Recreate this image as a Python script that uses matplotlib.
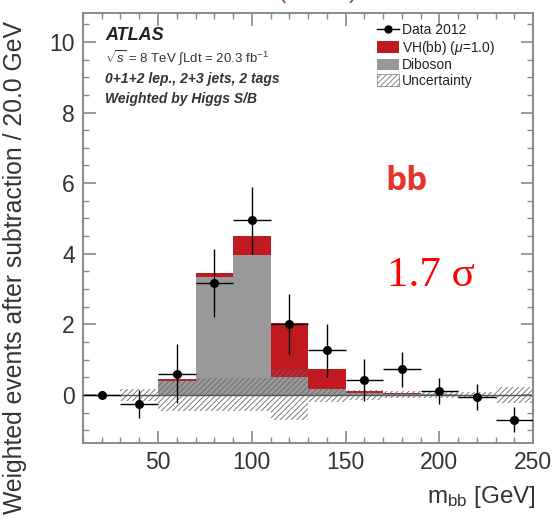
import matplotlib
matplotlib.use("Agg")
import matplotlib.pyplot as plt
from matplotlib.lines import Line2D
from matplotlib.patches import Patch
from matplotlib.ticker import MultipleLocator

plt.rcParams['font.family'] = ['Liberation Sans', 'DejaVu Sans']
plt.rcParams['mathtext.fontset'] = 'custom'
plt.rcParams['mathtext.rm'] = 'Liberation Sans'
plt.rcParams['mathtext.it'] = 'Liberation Sans:italic'
plt.rcParams['hatch.linewidth'] = 0.6

# m_bb bins (20 GeV wide), centres
bin_centers = [20, 40, 60, 80, 100, 120, 140, 160, 180, 200, 220, 240]
bin_width = 20

# data after subtraction
data_y = [0.0, -0.25, 0.6, 3.17, 4.95, 2.0, 1.27, 0.43, 0.72, 0.1, -0.07, -0.7]
data_err = [0.05, 0.4, 0.83, 0.96, 0.95, 0.85, 0.75, 0.6, 0.5, 0.37, 0.37, 0.35]

# stacked expectations
diboson = [0.0, 0.0, 0.4, 3.35, 3.97, 0.5, 0.17, 0.05, 0.02, 0.02, 0.0, 0.0]
vh_bb = [0.0, 0.0, 0.06, 0.1, 0.53, 1.54, 0.57, 0.06, 0.02, 0.0, 0.0, 0.0]

# uncertainty band half-width around zero
uncert = [0.0, 0.17, 0.45, 0.47, 0.47, 0.7, 0.2, 0.15, 0.1, 0.1, 0.08, 0.22]

RED = "#c01a20"
GRAY = "#999999"
FRAME = "#8a8a8a"

fig = plt.figure(figsize=(5.57, 5.21), dpi=100)
ax = fig.add_axes([0.149, 0.150, 0.808, 0.825])

ax.bar(bin_centers, diboson, width=bin_width, color=GRAY, linewidth=0, zorder=1)
ax.bar(bin_centers, vh_bb, width=bin_width, bottom=diboson, color=RED, linewidth=0, zorder=1)

lows = [-u for u in uncert]
highs = [2 * u for u in uncert]
ax.bar(bin_centers, highs, width=bin_width, bottom=lows, fill=False, hatch='//////',
       edgecolor='#666666', linewidth=0, zorder=2)

ax.axhline(0, color='#555555', lw=1.0, zorder=2)

ax.errorbar(bin_centers, data_y, yerr=data_err, xerr=bin_width / 2, fmt='o', color='black',
            ms=5.5, elinewidth=1.0, capsize=0, zorder=3)

ax.set_xlim(10, 250)
ax.set_ylim(-1.36, 10.82)
ax.xaxis.set_major_locator(MultipleLocator(50))
ax.xaxis.set_minor_locator(MultipleLocator(10))
ax.yaxis.set_major_locator(MultipleLocator(2))
ax.yaxis.set_minor_locator(MultipleLocator(0.5))
ax.set_xticks([50, 100, 150, 200, 250])
ax.tick_params(which='both', direction='in', top=True, right=True, color=FRAME,
               labelsize=16.5, labelcolor='#333333')
ax.tick_params(which='major', length=9, width=1.2, pad=6)
ax.tick_params(which='minor', length=4.5, width=1.0)
for s in ax.spines.values():
    s.set_color(FRAME)
    s.set_linewidth(1.4)

# ATLAS labels
ax.text(0.049, 0.937, "ATLAS", transform=ax.transAxes, fontsize=13,
        fontweight='bold', fontstyle='italic', color='#222222')
ax.text(0.049, 0.884, r"$\sqrt{s}$ = 8 TeV $\int$Ldt = 20.3 fb$^{-1}$", transform=ax.transAxes,
        fontsize=9.5, color='#333333')
ax.text(0.049, 0.837, "0+1+2 lep., 2+3 jets, 2 tags", transform=ax.transAxes, fontsize=10,
        fontweight='bold', fontstyle='italic', color='#333333')
ax.text(0.049, 0.790, "Weighted by Higgs S/B", transform=ax.transAxes, fontsize=10,
        fontweight='bold', fontstyle='italic', color='#333333')

handles = [
    Line2D([0], [0], color='black', marker='o', ms=5, lw=1),
    Patch(facecolor=RED, edgecolor='none'),
    Patch(facecolor=GRAY, edgecolor='none'),
    Patch(facecolor='white', edgecolor='#777777', hatch='//////', linewidth=0.5),
]
labels = ["Data 2012", r"VH(bb) ($\mu$=1.0)", "Diboson", "Uncertainty"]
ax.legend(handles, labels, loc='upper left', bbox_to_anchor=(0.64, 0.99), frameon=False,
          fontsize=10, handlelength=1.6, handleheight=0.9, handletextpad=0.2,
          labelspacing=0.12, borderaxespad=0, labelcolor='#222222')

# axis titles
fig.text(0.027, 0.487, "Weighted events after subtraction / 20.0 GeV", rotation=90,
         ha='center', va='center', fontsize=17.8, color='#333333')
fig.text(0.962, 0.035, r"$\mathregular{m_{bb}}$ [GeV]", ha='right', va='baseline',
         fontsize=17.5, color='#333333')

# annotations
fig.text(0.691, 0.635, "bb", fontsize=24, fontweight='bold', color='#e5352b',
         family=['Open Sans', 'DejaVu Sans'])
fig.text(0.695, 0.452, "1.7 \u03c3", fontsize=31, color='#ff0000',
         family=['Liberation Serif', 'DejaVu Serif'])

# cut-off purple title fragments at the very top (cropped in the original too)
fig.text(0.506, 1.004, "(", fontsize=18, color='#9b30a0', ha='center', va='baseline')
fig.text(0.634, 1.004, ")", fontsize=18, color='#9b30a0', ha='center', va='baseline')

fig.savefig("out.png", dpi=100)
